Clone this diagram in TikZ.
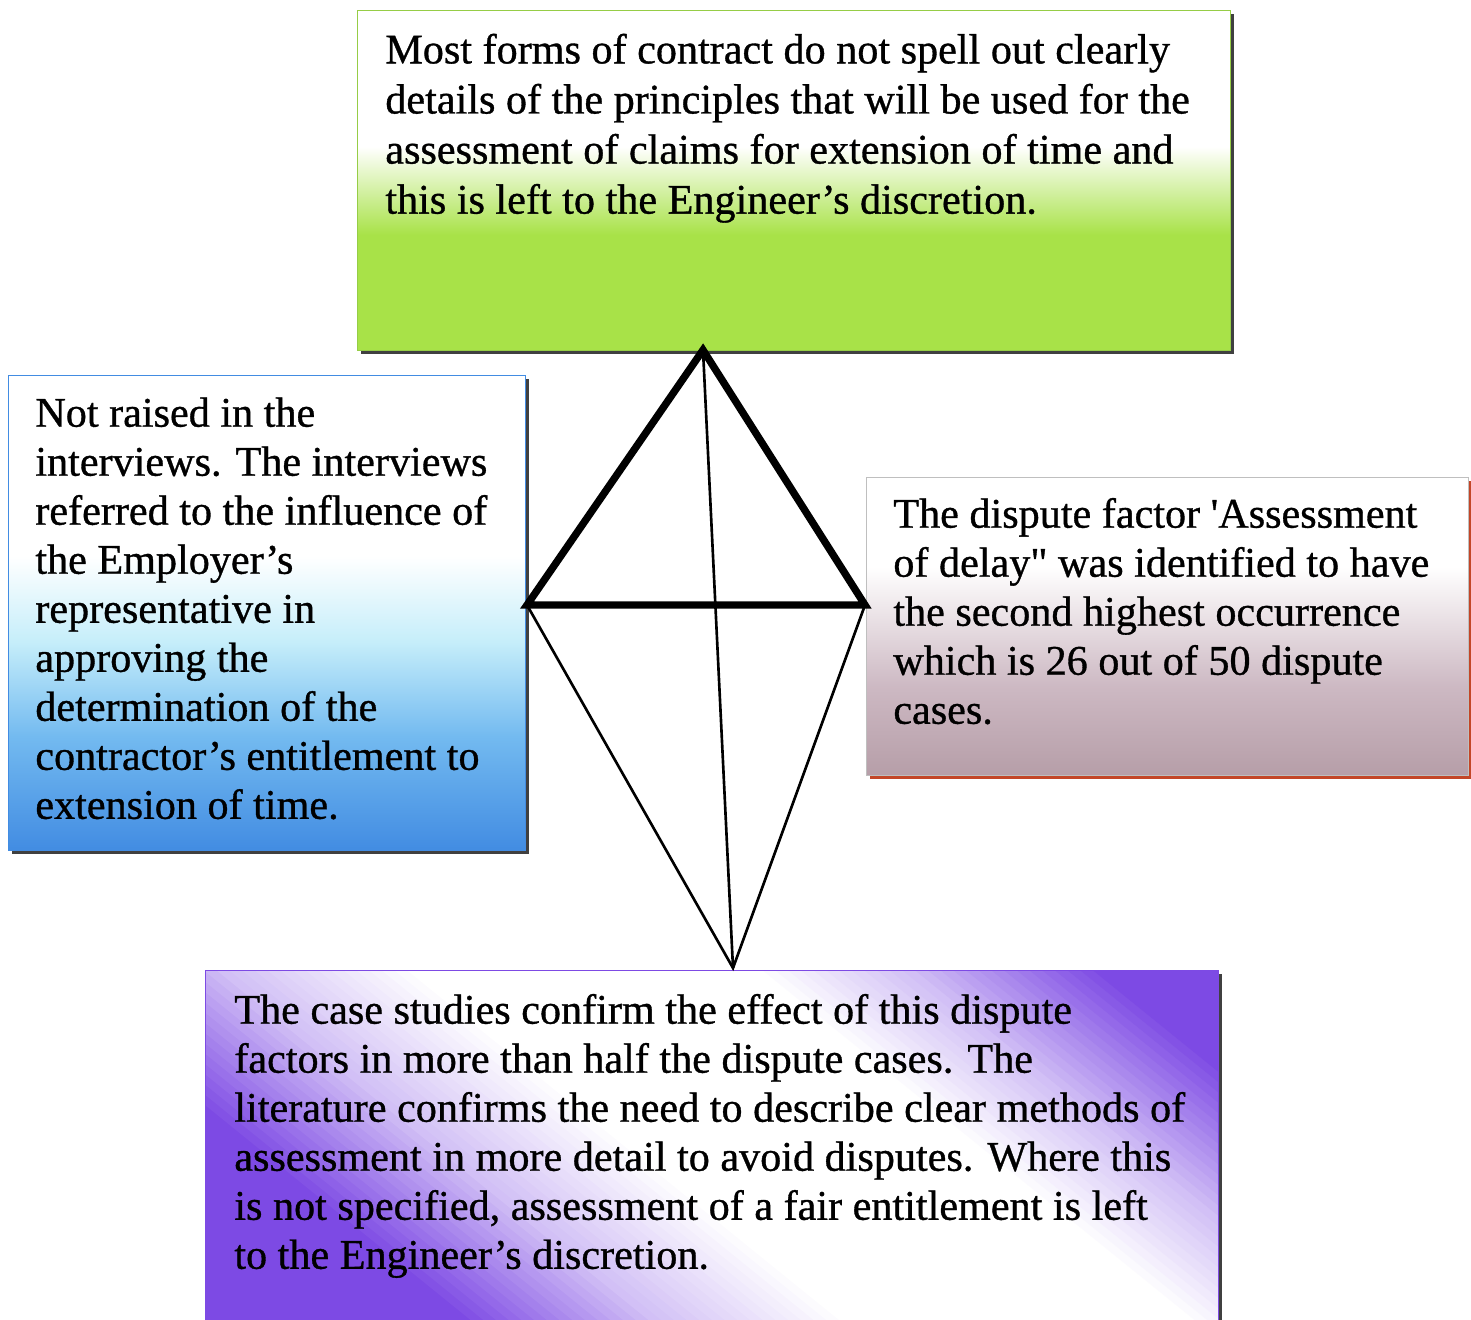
\documentclass[tikz,border=0pt]{standalone}
\usepackage{fontspec}
\setmainfont[FakeBold=0.8]{Liberation Serif}
\usetikzlibrary{shadows}

\definecolor{limeg}{RGB}{168,226,72}
\definecolor{limeline}{RGB}{150,205,70}
\definecolor{blueb}{RGB}{66,140,226}
\definecolor{bluem}{RGB}{115,186,240}
\definecolor{bluel}{RGB}{198,238,250}
\definecolor{mauve}{RGB}{182,158,168}
\definecolor{mauvel}{RGB}{205,185,195}
\definecolor{purp}{RGB}{125,74,228}
\definecolor{rust}{RGB}{195,70,40}

\pgfdeclareverticalshading{greenfade}{100bp}{color(0bp)=(limeg); color(25bp)=(limeg); color(42bp)=(limeg); color(55bp)=(white); color(100bp)=(white)}
\pgfdeclareverticalshading{bluefade}{100bp}{color(0bp)=(blueb); color(25bp)=(blueb); color(37bp)=(bluem); color(47bp)=(bluel); color(56bp)=(white); color(100bp)=(white)}
\pgfdeclareverticalshading{mauvefade}{100bp}{color(0bp)=(mauve); color(25bp)=(mauve); color(40bp)=(mauvel); color(60bp)=(white); color(100bp)=(white)}

\begin{document}
\begin{tikzpicture}[x=0.02cm,y=-0.02cm,
    box/.style={anchor=north west, inner sep=0pt, line width=0.6pt,
      drop shadow={shadow xshift=2pt, shadow yshift=-2pt, fill=#1, opacity=1}},
    box/.default=black!75,
    % diagonaler Verlauf: Streifen quer zur Achse (51 Grad)
    diagshade/.style={fill=white, path picture={
      \begin{scope}[shift={(path picture bounding box.center)}, x={(0.01258cm,0.01554cm)}, y={(0.01554cm,-0.01258cm)}]
        \foreach \g in {-640,-632,...,640}{
          \pgfmathsetmacro\p{\g<-288 ? 100 : (\g<-168 ? 35+0.5417*(-168-(\g)) : (\g<-48 ? 0.2917*(-48-(\g)) : (\g<168 ? 0 : (\g<264 ? 0.3646*(\g-168) : (\g<384 ? 35+0.5417*(\g-264) : 100)))))}
          \fill[purp!\p!white] (\g,-700) -- (\g+9,-700) -- (\g+9,700) -- (\g,700) -- cycle;
        }
      \end{scope}}},
    txt/.style={anchor=north west, align=left, inner sep=0pt,
      font=\fontsize{24}{27.9}\selectfont},
    kitethick/.style={line width=4.2pt},
    kitethin/.style={line width=1.5pt}]

  \useasboundingbox (0,0) rectangle (1471,1319);

  % Kaesten
  \node[box, draw=limeline, shading=greenfade, minimum width=17.46cm, minimum height=6.8cm] (contract) at (357,10) {};
  \node[box, draw=blueb, shading=bluefade, minimum width=10.34cm, minimum height=9.5cm] (interviews) at (8,375) {};
  \node[box=rust, draw=black!25, shading=mauvefade, minimum width=12.04cm, minimum height=5.96cm] (occurrence) at (866,477) {};
  \node[box, draw=purp, diagshade, minimum width=20.26cm, minimum height=7.4cm] (casestudies) at (205,970) {};

  % Texte
  \node[txt, font=\fontsize{24}{28.5}\selectfont] (contracttxt) at ([shift={(28,18)}]contract.north west) {\strut Most forms of contract do not spell out clearly\\
    details of the principles that will be used for the\\
    assessment of claims for extension of time and\\
    this is left to the Engineer's discretion.};
  \node[txt] (interviewstxt) at ([shift={(27,17)}]interviews.north west) {\strut Not raised in the\\
    interviews. The interviews\\
    referred to the influence of\\
    the Employer's\\
    representative in\\
    approving the\\
    determination of the\\
    contractor's entitlement to\\
    extension of time.};
  \node[txt] (occurrencetxt) at ([shift={(27,16)}]occurrence.north west) {\strut The dispute factor \textquotesingle Assessment\\
    of delay\textquotedbl{} was identified to have\\
    the second highest occurrence\\
    which is 26 out of 50 dispute\\
    cases.};
  \node[txt] (casestudiestxt) at ([shift={(29,19)}]casestudies.north west) {\strut The case studies confirm the effect of this dispute\\
    factors in more than half the dispute cases. The\\
    literature confirms the need to describe clear methods of\\
    assessment in more detail to avoid disputes. Where this\\
    is not specified, assessment of a fair entitlement is left\\
    to the Engineer's discretion.};

  % Drachen
  \coordinate (kt) at (703,350);
  \coordinate (kl) at (527,605);
  \coordinate (kr) at (865,605);
  \coordinate (kb) at (733,968);
  \draw[kitethick] (kl) -- (kt) -- (kr) -- cycle;
  \draw[kitethin] (kl) -- (kb) -- (kr);
  \draw[kitethin] (kt) -- (kb);

\end{tikzpicture}
\end{document}
